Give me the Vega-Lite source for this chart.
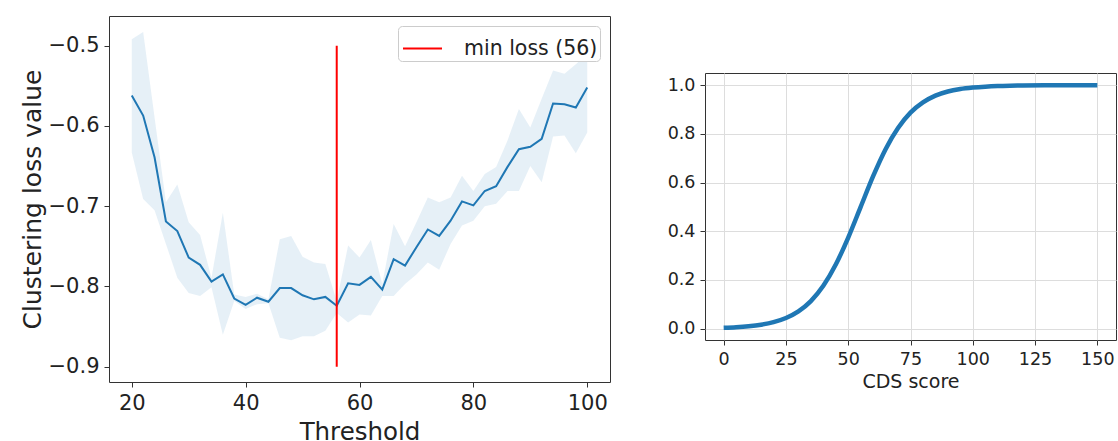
{
  "$schema": "https://vega.github.io/schema/vega-lite/v6.json",
  "padding": {"left": 19, "top": 15, "right": 0, "bottom": 0},
  "spacing": 55,
  "resolve": {"legend": {"color": "independent"}, "scale": {"color": "independent"}},
  "config": {
    "font": "DejaVu Sans",
    "view": {"stroke": "#333333", "strokeWidth": 1},
    "axis": {
      "domain": false, "grid": false, "tickColor": "#333333", "tickSize": 5, "tickWidth": 1,
      "labelColor": "#222222", "titleColor": "#222222", "titleFontWeight": "normal",
      "labelFlush": false, "labelOverlap": false, "labelPadding": 5, "titlePadding": 6
    },
    "legend": {"titleFontWeight": "normal"}
  },
  "hconcat": [
    {
      "width": 501,
      "height": 366,
      "data": {"values": [
        {"x": 20, "m": -0.562, "lo": -0.633, "hi": -0.492},
        {"x": 22, "m": -0.587, "lo": -0.691, "hi": -0.483},
        {"x": 24, "m": -0.639, "lo": -0.705, "hi": -0.589},
        {"x": 26, "m": -0.719, "lo": -0.747, "hi": -0.695},
        {"x": 28, "m": -0.731, "lo": -0.789, "hi": -0.673},
        {"x": 30, "m": -0.764, "lo": -0.808, "hi": -0.720},
        {"x": 32, "m": -0.773, "lo": -0.812, "hi": -0.736},
        {"x": 34, "m": -0.794, "lo": -0.801, "hi": -0.789},
        {"x": 36, "m": -0.785, "lo": -0.860, "hi": -0.708},
        {"x": 38, "m": -0.815, "lo": -0.818, "hi": -0.810},
        {"x": 40, "m": -0.823, "lo": -0.828, "hi": -0.813},
        {"x": 42, "m": -0.814, "lo": -0.822, "hi": -0.809},
        {"x": 44, "m": -0.819, "lo": -0.821, "hi": -0.816},
        {"x": 46, "m": -0.802, "lo": -0.864, "hi": -0.741},
        {"x": 48, "m": -0.802, "lo": -0.867, "hi": -0.737},
        {"x": 50, "m": -0.811, "lo": -0.862, "hi": -0.763},
        {"x": 52, "m": -0.816, "lo": -0.862, "hi": -0.770},
        {"x": 54, "m": -0.813, "lo": -0.855, "hi": -0.772},
        {"x": 56, "m": -0.824, "lo": -0.833, "hi": -0.818},
        {"x": 58, "m": -0.796, "lo": -0.845, "hi": -0.749},
        {"x": 60, "m": -0.798, "lo": -0.835, "hi": -0.764},
        {"x": 62, "m": -0.788, "lo": -0.836, "hi": -0.742},
        {"x": 64, "m": -0.804, "lo": -0.812, "hi": -0.797},
        {"x": 66, "m": -0.766, "lo": -0.812, "hi": -0.722},
        {"x": 68, "m": -0.774, "lo": -0.797, "hi": -0.750},
        {"x": 70, "m": -0.751, "lo": -0.785, "hi": -0.720},
        {"x": 72, "m": -0.729, "lo": -0.770, "hi": -0.689},
        {"x": 74, "m": -0.737, "lo": -0.779, "hi": -0.695},
        {"x": 76, "m": -0.718, "lo": -0.747, "hi": -0.689},
        {"x": 78, "m": -0.694, "lo": -0.724, "hi": -0.662},
        {"x": 80, "m": -0.699, "lo": -0.718, "hi": -0.681},
        {"x": 82, "m": -0.681, "lo": -0.700, "hi": -0.660},
        {"x": 84, "m": -0.675, "lo": -0.697, "hi": -0.651},
        {"x": 86, "m": -0.651, "lo": -0.681, "hi": -0.618},
        {"x": 88, "m": -0.629, "lo": -0.681, "hi": -0.579},
        {"x": 90, "m": -0.626, "lo": -0.650, "hi": -0.602},
        {"x": 92, "m": -0.616, "lo": -0.670, "hi": -0.566},
        {"x": 94, "m": -0.572, "lo": -0.613, "hi": -0.531},
        {"x": 96, "m": -0.573, "lo": -0.612, "hi": -0.535},
        {"x": 98, "m": -0.577, "lo": -0.634, "hi": -0.523},
        {"x": 100, "m": -0.552, "lo": -0.608, "hi": -0.510}
      ]},
      "encoding": {
        "x": {
          "field": "x", "type": "quantitative", "title": "Threshold",
          "scale": {"domain": [16, 104], "nice": false, "zero": false},
          "axis": {"values": [20, 40, 60, 80, 100], "labelFontSize": 21, "titleFontSize": 24.5, "titlePadding": 7}
        }
      },
      "layer": [
        {
          "mark": {"type": "area", "color": "#1f77b4", "opacity": 0.11},
          "encoding": {
            "y": {
              "field": "lo", "type": "quantitative", "title": "Clustering loss value",
              "scale": {"domain": [-0.919, -0.463], "nice": false, "zero": false},
              "axis": {"values": [-0.9, -0.8, -0.7, -0.6, -0.5], "format": ".1f", "labelFontSize": 21, "titleFontSize": 25, "titlePadding": 3}
            },
            "y2": {"field": "hi"}
          }
        },
        {
          "mark": {"type": "line", "color": "#1f77b4", "strokeWidth": 2},
          "encoding": {
            "y": {"field": "m", "type": "quantitative", "title": "Clustering loss value"}
          }
        },
        {
          "data": {"values": [{"xr": 56, "y1": -0.9, "y2": -0.5, "label": "min loss (56)"}]},
          "mark": {"type": "rule", "strokeWidth": 2},
          "encoding": {
            "x": {"field": "xr", "type": "quantitative", "title": "Threshold"},
            "y": {"field": "y1", "type": "quantitative", "title": "Clustering loss value"},
            "y2": {"field": "y2"},
            "color": {
              "field": "label", "type": "nominal",
              "scale": {"range": ["#ff0000"]},
              "legend": {
                "title": null, "orient": "top-right", "offset": 10,
                "fillColor": "white", "strokeColor": "#cccccc", "cornerRadius": 4, "padding": 2,
                "labelFontSize": 20.5, "labelColor": "#222222", "labelOffset": 21,
                "symbolType": "stroke", "symbolSize": 1521, "symbolStrokeWidth": 2, "symbolOffset": 2
              }
            }
          }
        }
      ]
    },
    {
      "spacing": 0,
      "vconcat": [
        {
          "width": 411,
          "height": 56,
          "view": {"stroke": null},
          "data": {"values": []},
          "mark": "point"
        },
        {
          "width": 411,
          "height": 267,
          "data": {"values": [
            {"s": 0, "p": 0.0034},
            {"s": 5, "p": 0.0057},
            {"s": 10, "p": 0.0096},
            {"s": 15, "p": 0.0159},
            {"s": 20, "p": 0.0264},
            {"s": 25, "p": 0.0434},
            {"s": 30, "p": 0.0706},
            {"s": 35, "p": 0.1129},
            {"s": 40, "p": 0.1757},
            {"s": 45, "p": 0.263},
            {"s": 50, "p": 0.374},
            {"s": 55, "p": 0.5},
            {"s": 60, "p": 0.626},
            {"s": 65, "p": 0.737},
            {"s": 70, "p": 0.824},
            {"s": 75, "p": 0.887},
            {"s": 80, "p": 0.929},
            {"s": 85, "p": 0.957},
            {"s": 90, "p": 0.974},
            {"s": 95, "p": 0.984},
            {"s": 100, "p": 0.99},
            {"s": 105, "p": 0.994},
            {"s": 110, "p": 0.9966},
            {"s": 115, "p": 0.998},
            {"s": 120, "p": 0.9988},
            {"s": 130, "p": 0.9996},
            {"s": 140, "p": 0.9999},
            {"s": 150, "p": 1.0}
          ]},
          "mark": {"type": "line", "color": "#1f77b4", "strokeWidth": 4.5, "interpolate": "monotone"},
          "encoding": {
            "x": {
              "field": "s", "type": "quantitative", "title": "CDS score",
              "scale": {"domain": [-7.5, 157.5], "nice": false, "zero": false},
              "axis": {"values": [0, 25, 50, 75, 100, 125, 150], "grid": true, "gridColor": "#dddddd", "labelFontSize": 17.5, "titleFontSize": 19, "titlePadding": 5}
            },
            "y": {
              "field": "p", "type": "quantitative", "title": null,
              "scale": {"domain": [-0.047, 1.05], "nice": false, "zero": false},
              "axis": {"values": [0, 0.2, 0.4, 0.6, 0.8, 1.0], "format": ".1f", "grid": true, "gridColor": "#dddddd", "labelFontSize": 17.5}
            }
          }
        }
      ]
    }
  ]
}
